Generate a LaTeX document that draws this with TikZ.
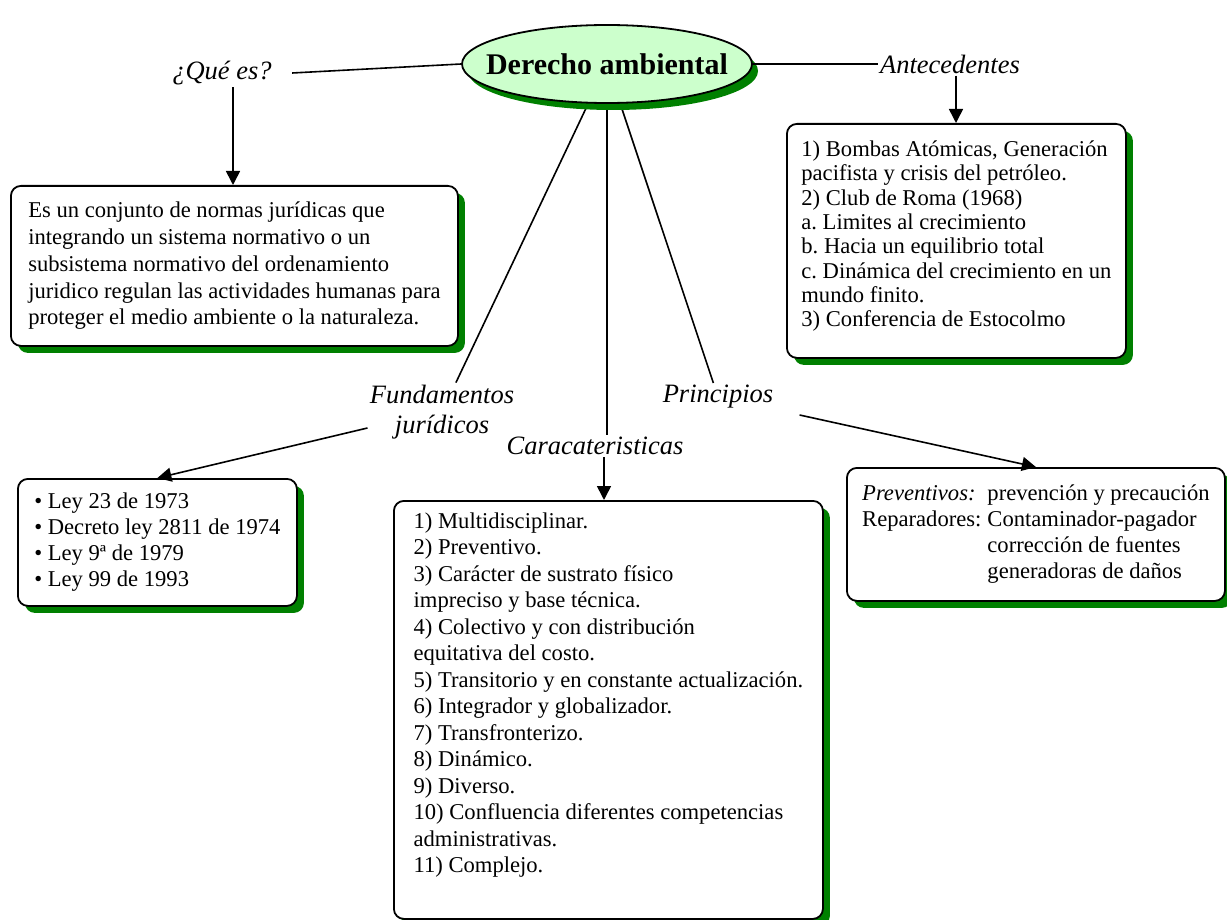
\documentclass[tikz,border=0pt]{standalone}
\usepackage{fontspec}
\setmainfont{Liberation Serif}
\usetikzlibrary{shapes.geometric,shadows,arrows.meta,backgrounds}
\definecolor{verdeoscuro}{RGB}{0,128,0}
\definecolor{verdeclaro}{RGB}{204,255,204}
\frenchspacing

\begin{document}
\begin{tikzpicture}[x=0.5pt,y=-0.5pt,
    caja/.style={draw, line width=0.9pt, rounded corners=5pt, fill=white, anchor=north west,
        align=left, inner xsep=6.5pt, inner ysep=0pt,
        drop shadow={shadow xshift=3.5pt, shadow yshift=-3.5pt, fill=verdeoscuro, opacity=1}},
    enlace/.style={font=\fontsize{13.25}{15}\selectfont\itshape, inner sep=1pt},
    flecha/.style={-{Triangle[width=7pt,length=7pt]}, line width=0.8pt},
    linea/.style={line width=0.8pt}]
            \useasboundingbox (0,0) rectangle (1227,920);

            % Draw the central ellipse
            \node[ellipse, draw, line width=0.9pt, fill=verdeclaro, minimum width=145pt, minimum height=39pt, inner sep=0pt,
                drop shadow={shadow xshift=3pt, shadow yshift=-3.5pt, fill=verdeoscuro, opacity=1},
                font=\fontsize{15}{18}\selectfont\bfseries] (titulo) at (607,64) {\makebox[0pt]{Derecho ambiental}};

            % Draw the linking words
            \node[enlace] (que) at (222,73) {¿Qué es?};
            \node[enlace] (ante) at (950,64) {Antecedentes};
            \node[enlace, align=center, font=\fontsize{13.25}{15}\selectfont\itshape] (fund) at (442,412) {Fundamentos\\jurídicos};
            \node[enlace] (carac) at (595,446) {Caracateristicas};
            \node[enlace] (princ) at (718,397) {Principios};

            % Draw the boxes
            \node[caja, font=\fontsize{11.3}{13.4}\selectfont, minimum width=223.5pt, minimum height=80pt] (def) at (10,185)
                {Es un conjunto de normas jurídicas que\\integrando un sistema normativo o un\\subsistema normativo del ordenamiento\\juridico regulan las actividades humanas para\\proteger el medio ambiente o la naturaleza.};
            \node[caja, font=\fontsize{11.3}{12.15}\selectfont, minimum width=169.5pt, minimum height=117pt] (antebox) at (786,123)
                {1) Bombas Atómicas, Generación\\pacifista y crisis del petróleo.\\2) Club de Roma (1968)\\a. Limites al crecimiento\\b. Hacia un equilibrio total\\c. Dinámica del crecimiento en un\\mundo finito.\\3) Conferencia de Estocolmo\\[-5pt]};
            \node[caja, font=\fontsize{11.3}{13}\selectfont, inner xsep=7.5pt, minimum width=139.5pt, minimum height=63.5pt] (leyes) at (17,478)
                {• Ley 23 de 1973\\• Decreto ley 2811 de 1974\\• Ley 9ª de 1979\\• Ley 99 de 1993};
            \node[caja, font=\fontsize{11.3}{13.25}\selectfont, inner xsep=7.5pt, minimum width=214.5pt, minimum height=209pt] (caracbox) at (393,500)
                {1) Multidisciplinar.\\2) Preventivo.\\3) Carácter de sustrato físico\\impreciso y base técnica.\\4) Colectivo y con distribución\\equitativa del costo.\\5) Transitorio y en constante actualización.\\6) Integrador y globalizador.\\7) Transfronterizo.\\8) Dinámico.\\9) Diverso.\\10) Confluencia diferentes competencias\\administrativas.\\11) Complejo.\\ \strut};
            \node[caja, font=\fontsize{11.3}{13}\selectfont, inner xsep=6pt, minimum width=189pt, minimum height=66.5pt] (princbox) at (846,467)
                {\begin{tabular}{@{}l@{\hspace{3pt}}l@{}}
                    \textit{Preventivos:} & prevención y precaución\\
                    Reparadores: & Contaminador-pagador\\
                     & corrección de fuentes\\
                     & generadoras de daños
                 \end{tabular}};

            % Draw the lines from the ellipse
            \begin{scope}[on background layer]
                \draw[linea] (titulo.center) -- (fund);
                \draw[linea] (titulo.center) -- (titulo.center |- carac.north);
                \draw[linea] (titulo.center) -- (princ);
            \end{scope}
            \draw[linea] (que.east) ++(9pt,0) -- (titulo.west);
            \draw[linea] (titulo.east) -- (ante.west);

            % Draw the arrows to the boxes
            \coordinate (qa) at ([xshift=5.5pt]que.south);
            \coordinate (aa) at ([xshift=3pt]ante.south);
            \coordinate (ca) at ([xshift=4.5pt]carac.south);
            \draw[flecha] (qa) -- (qa |- def.north);
            \draw[flecha] (aa) -- (aa |- antebox.north);
            \draw[flecha] ([yshift=-8pt]fund.west) -- (leyes.north);
            \draw[flecha] (ca) -- (ca |- caracbox.north);
            \draw[flecha] ([xshift=12pt,yshift=-9pt]princ.east) -- (princbox.north);
        \end{tikzpicture}
\end{document}
